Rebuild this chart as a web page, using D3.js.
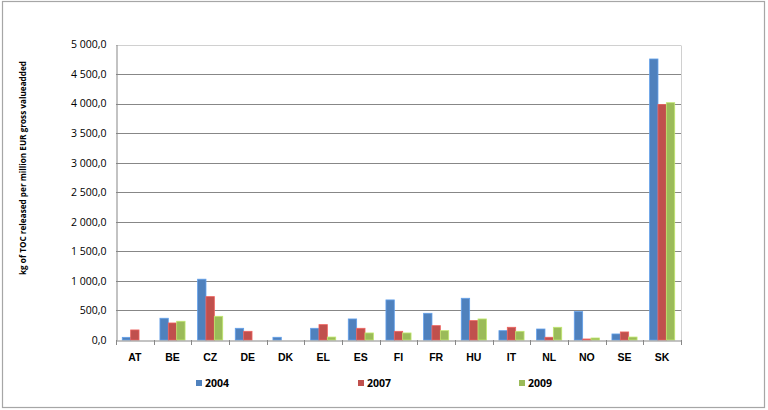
<!DOCTYPE html>
<html><head><meta charset="utf-8">
<script src="https://cdn.jsdelivr.net/npm/d3@7"></script>
<style>
html,body{margin:0;padding:0;background:#fff;}
svg{display:block;font-family:"Open Sans","Liberation Sans",sans-serif;}
</style></head>
<body><svg id="c" width="768" height="410"></svg>
<script>
const categories = ["AT","BE","CZ","DE","DK","EL","ES","FI","FR","HU","IT","NL","NO","SE","SK"];
const seriesNames = ["2004","2007","2009"];
const values2004 = [45, 368, 1029, 198, 46, 198, 356, 678, 452, 706, 158, 186, 480, 102, 4755];
const values2007 = [170, 288, 734, 147, 0, 260, 198, 147, 243, 328, 215, 46, 17, 136, 3985];
const values2009 = [0, 317, 401, 0, 0, 50, 119, 119, 158, 356, 147, 215, 34, 50, 4015];
const yTicks = [0, 500, 1000, 1500, 2000, 2500, 3000, 3500, 4000, 4500, 5000];
const colors = ["#4F81BD", "#C0504D", "#9BBB59"];
const yLabel = "kg of TOC released per million EUR gross valueadded";

const seriesData = [values2004, values2007, values2009];
const svg = d3.select("#c");
const m = {l:116, r:681, t:44.5, b:340};

svg.append("rect").attr("x",2.5).attr("y",1.5).attr("width",762).attr("height",406)
  .attr("fill","#fff").attr("stroke","#a6a6a6").attr("stroke-width",1.2);

const x = d3.scaleBand().domain(categories).range([m.l, m.r]).paddingInner(0).paddingOuter(0);
const xs = d3.scaleBand().domain(seriesNames).range([0, x.bandwidth()]).paddingInner(0).paddingOuter(0.75);
const y = d3.scaleLinear().domain([0, 5000]).range([m.b, m.t]);

const fmt = v => { const s = d3.format(",.1f")(v); return s.replace(/,/g," ").replace(".",","); };

// gridlines
svg.append("g").selectAll("line").data(yTicks.slice(1)).join("line")
  .attr("x1", m.l).attr("x2", m.r)
  .attr("y1", d => Math.round(y(d))+0.5).attr("y2", d => Math.round(y(d))+0.5)
  .attr("stroke", d => d===5000 ? "#d0d0d0" : "#878787").attr("stroke-width",1);
svg.append("line").attr("x1", m.r+0.5).attr("x2", m.r+0.5).attr("y1", Math.round(y(5000))+0.5).attr("y2", m.b)
  .attr("stroke","#d0d0d0");

// bars
const g = svg.append("g");
seriesData.forEach((vals, si) => {
  g.append("g").selectAll("rect").data(vals.map((v,i)=>({v, c:categories[i]})).filter(d=>d.v>0)).join("rect")
    .attr("x", d => x(d.c) + xs(seriesNames[si]))
    .attr("width", xs.bandwidth())
    .attr("y", d => y(d.v))
    .attr("height", d => y(0) - y(d.v))
    .attr("fill", colors[si])
    .attr("stroke", d3.color(colors[si]).brighter(0.6))
    .attr("stroke-width", 0.8);
});

// y axis
const ya = svg.append("g").attr("transform", `translate(${m.l+0.5},0)`)
  .call(d3.axisLeft(y).tickValues(yTicks).tickFormat(fmt).tickSize(0).tickPadding(10));
ya.select(".domain").attr("stroke","#878787");
ya.selectAll("text").attr("font-size","10.5px").attr("fill","#000").attr("font-family","'Open Sans',sans-serif");

// x axis
const xa = svg.append("g").attr("transform", `translate(0,${m.b+0.5})`)
  .call(d3.axisBottom(x).tickSize(0).tickPadding(13));
xa.select(".domain").attr("stroke","#878787");
xa.selectAll("text").attr("font-size","10.5px").attr("font-weight","bold").attr("fill","#000");
const bounds = categories.map(c => x(c)).concat([m.r]);
svg.append("g").selectAll("line").data(bounds).join("line")
  .attr("x1", d => Math.round(d)+0.5).attr("x2", d => Math.round(d)+0.5)
  .attr("y1", m.b).attr("y2", m.b+5).attr("stroke","#878787");

// y label
svg.append("text").attr("transform", "translate(26,168) rotate(-90)")
  .attr("text-anchor","middle").attr("font-size","8.2px").attr("font-weight","bold")
  .attr("fill","#000").text(yLabel);

// legend
const legX = [196, 358, 519];
const leg = svg.append("g").selectAll("g").data(seriesNames).join("g")
  .attr("transform", (d,i) => `translate(${legX[i]},380)`);
leg.append("rect").attr("width",6).attr("height",6).attr("fill",(d,i)=>colors[i]);
leg.append("text").attr("x",9).attr("y",7).attr("font-size","10.5px").attr("font-weight","bold")
  .attr("fill","#000").text(d=>d);
</script></body></html>
